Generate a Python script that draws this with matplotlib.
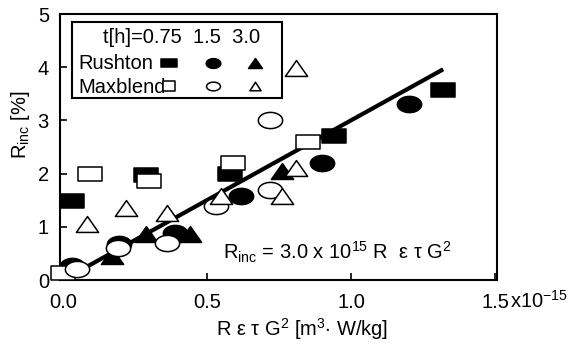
import numpy as np
import matplotlib
matplotlib.use("Agg")
import matplotlib.pyplot as plt
from matplotlib.path import Path
from matplotlib.patches import Rectangle

plt.rcParams['font.family'] = ['Liberation Sans', 'DejaVu Sans']
plt.rcParams['mathtext.fontset'] = 'custom'
plt.rcParams['mathtext.rm'] = 'Liberation Sans'
plt.rcParams['mathtext.it'] = 'Liberation Sans:italic'
plt.rcParams['mathtext.bf'] = 'Liberation Sans:bold'

# x: R*eps*tau*G^2 [1e-15 m^3 W/kg], y: R_inc [%]
rushton_075_x = [0.03, 0.29, 0.58, 0.94, 1.32]
rushton_075_y = [1.49, 1.98, 2.00, 2.70, 3.58]
rushton_15_x = [0.03, 0.195, 0.39, 0.62, 0.90, 1.20]
rushton_15_y = [0.26, 0.68, 0.89, 1.58, 2.19, 3.30]
rushton_30_x = [0.17, 0.29, 0.44, 0.76]
rushton_30_y = [0.45, 0.87, 0.87, 2.05]

maxblend_075_x = [0.0, 0.095, 0.30, 0.59, 0.85]
maxblend_075_y = [0.13, 2.00, 1.87, 2.20, 2.59]
maxblend_15_x = [0.05, 0.19, 0.36, 0.53, 0.72, 0.72]
maxblend_15_y = [0.20, 0.60, 0.70, 1.39, 1.70, 3.00]
maxblend_30_x = [0.085, 0.22, 0.36, 0.55, 0.76, 0.81, 0.81]
maxblend_30_y = [1.05, 1.36, 1.26, 1.58, 1.58, 2.10, 3.98]

slope = 3.0  # R_inc = 3.0e15 * R eps tau G^2
fit_x = np.array([0.03, 1.32])

x_ticks = [0.0, 0.5, 1.0, 1.5]
x_ticklabels = ['0.0', '0.5', '1.0', '1.5']
y_ticks = [0, 1, 2, 3, 4, 5]

FS = 14.5


def rect_marker(aspect):
    v = [(-aspect, -1), (aspect, -1), (aspect, 1), (-aspect, 1), (-aspect, -1)]
    return Path(v, [Path.MOVETO, Path.LINETO, Path.LINETO, Path.LINETO, Path.CLOSEPOLY])


def ellipse_marker(aspect):
    t = np.linspace(0, 2 * np.pi, 60)
    v = np.column_stack([aspect * np.cos(t), np.sin(t)])
    return Path(v, closed=True)


def tri_marker(aspect):
    v = [(-aspect, -1), (aspect, -1), (0, 1), (-aspect, -1)]
    return Path(v, [Path.MOVETO, Path.LINETO, Path.LINETO, Path.CLOSEPOLY])


sq = rect_marker(1.7)
el = ellipse_marker(1.5)
tr = tri_marker(1.4)

fig = plt.figure(figsize=(5.71, 3.53), dpi=100)
ax = fig.add_axes([60 / 571, 1 - 280 / 353, 437 / 571, 266 / 353])

ax.plot(fit_x, slope * fit_x, color='black', lw=3.0, zorder=2,
        solid_capstyle='butt')

ms = 17.5
mew = 1.1
common = dict(ls='none', mec='black', mew=mew, clip_on=False)
ax.plot(rushton_075_x, rushton_075_y, marker=sq, ms=ms, mfc='black', zorder=3, **common)
ax.plot(rushton_15_x, rushton_15_y, marker=el, ms=ms, mfc='black', zorder=3, **common)
ax.plot(rushton_30_x, rushton_30_y, marker=tr, ms=16, mfc='black', zorder=3, **common)
ax.plot(maxblend_075_x, maxblend_075_y, marker=sq, ms=ms, mfc='white', zorder=4, **common)
ax.plot(maxblend_15_x, maxblend_15_y, marker=el, ms=ms, mfc='white', zorder=4, **common)
ax.plot(maxblend_30_x, maxblend_30_y, marker=tr, ms=16, mfc='white', zorder=4, **common)

ax.set_xlim(-0.01, 1.507)
ax.set_ylim(0, 5)
ax.set_xticks(x_ticks)
ax.set_xticklabels(x_ticklabels)
ax.set_yticks(y_ticks)
ax.tick_params(direction='in', length=5, width=1.2, labelsize=FS, pad=8)
ax.tick_params(axis='x', pad=9)
for s in ax.spines.values():
    s.set_linewidth(1.5)

# exponent printed right after the last x tick label
ax.text(1.03, -0.103, r'x10$^{-15}$', transform=ax.transAxes, fontsize=FS,
        ha='left', va='baseline')

ax.set_xlabel(r'R ε τ G$^2$ [m$^3$$\cdot$ W/kg]', fontsize=FS)
ax.xaxis.set_label_coords(0.554, -0.135)
ax.set_ylabel(r'R$_{\rm inc}$ [%]', fontsize=FS)
ax.yaxis.set_label_coords(-0.064, 0.585)

ax.text(0.372, 0.105, r'R$_{\rm inc}$ = 3.0 x 10$^{15}$ R  ε τ G$^2$',
        transform=ax.transAxes, fontsize=FS, ha='left', va='center')

# key box
ax.add_patch(Rectangle((0.027, 0.683), 0.481, 0.287, transform=ax.transAxes,
                       fill=True, fc='white', ec='black', lw=1.5, zorder=5))
ax.text(0.098, 0.912, 't[h]=0.75  1.5  3.0', transform=ax.transAxes, fontsize=FS,
        ha='left', va='center', zorder=6)
ax.text(0.041, 0.815, 'Rushton', transform=ax.transAxes, fontsize=FS,
        ha='left', va='center', zorder=6)
ax.text(0.041, 0.722, 'Maxblend', transform=ax.transAxes, fontsize=FS,
        ha='left', va='center', zorder=6)
kx = [0.250, 0.350, 0.446]
ky_r, ky_m = 0.815, 0.728
for x, m, s in zip(kx, [sq, el, tr], [11, 10.5, 10]):
    ax.plot([x], [ky_r], marker=m, ms=s, mfc='black', mec='black', mew=mew,
            transform=ax.transAxes, zorder=7, clip_on=False)
for x, m, s in zip(kx, [rect_marker(1.2), ellipse_marker(1.6), tri_marker(1.3)], [9, 10, 8]):
    ax.plot([x], [ky_m], marker=m, ms=s, mfc='white', mec='black', mew=mew,
            transform=ax.transAxes, zorder=7, clip_on=False)

fig.savefig('out.png', dpi=100)
